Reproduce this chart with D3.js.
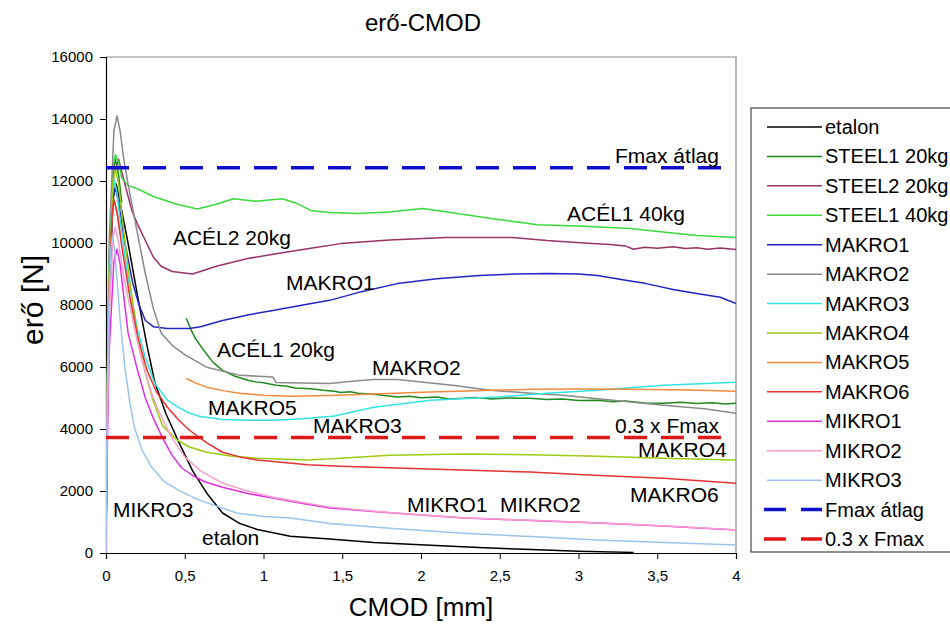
<!DOCTYPE html>
<html>
<head>
<meta charset="utf-8">
<script src="https://cdnjs.cloudflare.com/ajax/libs/d3/7.8.5/d3.min.js"></script>
<style>
  body { margin: 0; background: #fff; overflow: hidden; }
  text { font-family: "Liberation Sans", Arial, sans-serif; fill: #000; }
</style>
</head>
<body>
<svg id="chart" width="950" height="630"></svg>
<script>
// Force–CMOD curves, each point is [CMOD in mm, force in N]; null marks a gap in the record
const etalon = [[0,0],[0.005,3500],[0.02,8500],[0.045,11500],[0.065,11900],[0.09,11300],[0.14,10000],[0.2,8300],[0.26,6700],[0.31,5500],[0.38,4500],[0.46,3600],[0.55,2650],[0.64,1930],[0.74,1290],[0.85,950],[0.96,760],[1.17,540],[1.42,450],[1.7,340],[2.06,250],[2.4,170],[2.7,110],[3.0,60],[3.35,20]];
const steel1_20 = [[0,0],[0.005,4000],[0.02,9000],[0.045,12300],[0.06,12700],[0.08,12200],[0.1,11300],null,[0.51,7570],[0.54,7200],[0.57,6900],[0.62,6540],[0.68,6150],[0.74,5890],[0.82,5700],[0.9,5570],[0.95,5520],[1.0,5490],[1.08,5410],[1.15,5380],[1.2,5320],[1.3,5300],[1.38,5250],[1.45,5220],[1.49,5180],[1.55,5200],[1.6,5150],[1.7,5120],[1.78,5070],[1.85,5030],[1.93,5060],[2.0,5010],[2.1,5030],[2.18,4970],[2.27,4990],[2.35,5020],[2.45,4970],[2.55,5000],[2.69,4990],[2.8,4950],[2.9,4970],[3.0,4920],[3.12,4930],[3.22,4880],[3.3,4900],[3.42,4840],[3.54,4830],[3.65,4860],[3.75,4820],[3.85,4850],[3.93,4810],[4,4830]];
const steel2_20 = [[0,0],[0.005,4000],[0.02,9000],[0.05,12200],[0.08,12700],[0.1,12300],[0.13,11700],[0.165,11040],[0.2,10600],[0.25,10080],[0.3,9550],[0.35,9250],[0.42,9080],[0.55,9000],[0.7,9250],[0.9,9500],[1.09,9660],[1.3,9830],[1.49,9980],[1.8,10100],[2.16,10180],[2.58,10180],[2.8,10080],[3.01,10010],[3.2,9950],[3.3,9900],[3.35,9800],[3.42,9860],[3.5,9830],[3.6,9880],[3.68,9820],[3.75,9850],[3.82,9800],[3.9,9840],[4,9790]];
const steel1_40 = [[0,0],[0.005,4000],[0.02,9500],[0.045,12500],[0.06,12850],[0.08,12600],[0.1,12100],[0.14,11850],[0.2,11750],[0.3,11500],[0.45,11250],[0.58,11100],[0.7,11250],[0.81,11430],[0.95,11350],[1.12,11430],[1.2,11300],[1.3,11050],[1.42,10980],[1.6,10950],[1.8,11000],[2.01,11110],[2.1,11050],[2.23,10950],[2.5,10750],[2.74,10590],[3.0,10550],[3.33,10470],[3.55,10350],[3.75,10240],[4,10180]];
const makro1 = [[0,0],[0.005,4000],[0.02,8500],[0.045,11400],[0.06,11800],[0.08,11300],[0.12,10000],[0.17,8700],[0.21,8000],[0.25,7500],[0.3,7300],[0.39,7240],[0.53,7240],[0.6,7300],[0.74,7500],[0.9,7680],[1.06,7820],[1.25,8000],[1.42,8150],[1.6,8400],[1.85,8690],[2.1,8850],[2.37,8950],[2.6,9000],[2.8,9020],[3.0,9000],[3.12,8950],[3.3,8800],[3.43,8690],[3.6,8500],[3.75,8370],[3.9,8250],[4,8050]];
const makro2 = [[0,0],[0.005,4500],[0.02,10000],[0.05,13600],[0.07,14100],[0.09,13600],[0.11,12800],[0.14,11900],[0.2,10300],[0.25,9000],[0.3,7900],[0.35,7100],[0.42,6700],[0.5,6400],[0.64,5990],[0.85,5730],[1.06,5680],[1.08,5500],[1.42,5470],[1.6,5560],[1.7,5600],[1.85,5600],[2.0,5520],[2.2,5410],[2.44,5250],[2.7,5150],[2.9,5090],[3.22,4930],[3.54,4770],[3.8,4650],[4,4510]];
const makro3 = [[0,0],[0.005,4000],[0.02,9000],[0.04,11600],[0.055,12000],[0.07,11600],[0.1,10300],[0.14,8900],[0.2,7200],[0.25,6300],[0.31,5470],[0.39,4930],[0.46,4700],[0.53,4510],[0.6,4400],[0.74,4310],[0.9,4280],[1.06,4280],[1.25,4330],[1.45,4420],[1.7,4700],[2.06,4930],[2.48,5030],[2.8,5150],[3.12,5250],[3.54,5410],[4,5510]];
const makro4 = [[0,0],[0.005,4000],[0.02,9000],[0.045,12000],[0.06,12400],[0.08,11900],[0.11,10500],[0.15,8800],[0.2,7000],[0.25,5800],[0.3,4900],[0.36,4100],[0.45,3650],[0.53,3420],[0.64,3250],[0.8,3120],[0.96,3060],[1.28,3000],[1.49,3060],[1.8,3150],[2.27,3190],[2.7,3170],[3.12,3120],[3.6,3050],[4,3000]];
const makro5 = [[0,0],[0.005,3800],[0.02,8500],[0.04,11000],[0.05,11400],[0.07,11000],[0.09,10300],null,[0.51,5630],[0.57,5480],[0.64,5350],[0.75,5230],[0.85,5150],[1.0,5090],[1.17,5060],[1.42,5080],[1.7,5130],[2.06,5190],[2.4,5240],[2.69,5280],[3.0,5290],[3.33,5280],[3.7,5260],[4,5220]];
const makro6 = [[0,0],[0.005,3500],[0.02,8500],[0.04,11000],[0.05,11400],[0.07,11000],[0.1,9900],[0.15,8300],[0.2,7000],[0.26,5900],[0.32,5200],[0.39,4700],[0.46,4300],[0.53,3960],[0.64,3550],[0.74,3250],[0.85,3100],[0.96,3000],[1.28,2850],[1.49,2800],[2.0,2720],[2.69,2610],[3.1,2510],[3.54,2410],[4,2250]];
const mikro1 = [[0,0],[0.005,2500],[0.02,6500],[0.05,9400],[0.07,9800],[0.09,9300],[0.11,8400],[0.14,7100],[0.2,5900],[0.25,5000],[0.3,4350],[0.36,3700],[0.42,3150],[0.48,2750],[0.55,2500],[0.63,2290],[0.74,2120],[0.9,1920],[1.06,1770],[1.25,1600],[1.42,1450],[1.8,1300],[2.27,1130],[2.7,1050],[3.12,970],[3.5,880],[4,740]];
const mikro2 = [[0,0],[0.005,3000],[0.02,7500],[0.045,10200],[0.06,10500],[0.08,10000],[0.11,9000],[0.15,8000],[0.2,6800],[0.25,5800],[0.3,5000],[0.36,4300],[0.42,3700],[0.5,3100],[0.6,2650],[0.74,2250],[0.9,2000],[1.06,1800],[1.25,1630],[1.42,1480],[1.8,1310],[2.27,1140],[2.7,1055],[3.12,975],[3.5,885],[4,750]];
const mikro3 = [[0,0],[0.003,3000],[0.015,7500],[0.03,9800],[0.04,10200],[0.055,9800],[0.07,8800],[0.09,7500],[0.12,5990],[0.15,4900],[0.18,4060],[0.23,3300],[0.29,2770],[0.37,2300],[0.46,2030],[0.55,1800],[0.65,1600],[0.83,1290],[1.0,1180],[1.17,1130],[1.42,950],[1.8,800],[2.27,640],[2.7,530],[3.12,420],[3.5,350],[4,260]];

const seriesNames = ["etalon", "STEEL1 20kg", "STEEL2 20kg", "STEEL1 40kg", "MAKRO1", "MAKRO2", "MAKRO3", "MAKRO4", "MAKRO5", "MAKRO6", "MIKRO1", "MIKRO2", "MIKRO3"];
const seriesValues = [etalon, steel1_20, steel2_20, steel1_40, makro1, makro2, makro3, makro4, makro5, makro6, mikro1, mikro2, mikro3];
const seriesColors = ["#000000", "#1f8a1f", "#993366", "#3ad83a", "#2424c4", "#8a8a8a", "#33e3e3", "#9ccc10", "#f08a3c", "#e53232", "#e22ee2", "#f7a0cc", "#9cc4ec"];

// reference levels
const fmaxAvg = 12430;
const residualRatio = 0.3;
const refNames = ["Fmax átlag", "0.3 x Fmax"];
const refValues = [fmaxAvg, residualRatio * fmaxAvg];
const refColors = ["#1010cc", "#e01818"];
const refExtent = [0, 3.93];

const xTicks = [0, 0.5, 1, 1.5, 2, 2.5, 3, 3.5, 4];
const yTicks = [0, 2000, 4000, 6000, 8000, 10000, 12000, 14000, 16000];

// in-plot labels: [text, CMOD, force]
const annotations = [
  ["Fmax átlag", 3.232, 12590],
  ["ACÉL1 40kg", 2.927, 10720],
  ["ACÉL2 20kg", 0.425, 9920],
  ["MAKRO1", 1.143, 8470],
  ["ACÉL1 20kg", 0.705, 6310],
  ["MAKRO2", 1.689, 5730],
  ["MAKRO5", 0.648, 4440],
  ["MAKRO3", 1.314, 3860],
  ["0.3 x Fmax", 3.232, 3860],
  ["MAKRO4", 3.378, 3090],
  ["MAKRO6", 3.327, 1640],
  ["MIKRO1", 1.911, 1320],
  ["MIKRO2", 2.502, 1320],
  ["MIKRO3", 0.044, 1160],
  ["etalon", 0.61, 260]
];

const svg = d3.select("#chart");
const plot = { left: 106, right: 736, top: 57, bottom: 553 };

const x = d3.scaleLinear().domain([0, 4]).range([plot.left, plot.right]);
const y = d3.scaleLinear().domain([0, 16000]).range([plot.bottom, plot.top]);

svg.append("defs").append("clipPath").attr("id", "plotClip")
  .append("rect")
  .attr("x", plot.left).attr("y", plot.top)
  .attr("width", plot.right - plot.left).attr("height", plot.bottom - plot.top);

// title
svg.append("text")
  .attr("x", 423).attr("y", 31)
  .attr("text-anchor", "middle")
  .style("font-size", "24px")
  .text("erő-CMOD");

// plot frame (top and right sides)
svg.append("path")
  .attr("d", `M${plot.left},${plot.top}H${plot.right}V${plot.bottom}`)
  .attr("fill", "none").attr("stroke", "#888").attr("stroke-width", 1.2);

// axes
const fmtComma = v => String(v).replace(".", ",");
const xAxis = svg.append("g")
  .attr("transform", `translate(0,${plot.bottom})`)
  .call(d3.axisBottom(x).tickValues(xTicks).tickFormat(fmtComma).tickSize(6).tickPadding(11));
const yAxis = svg.append("g")
  .attr("transform", `translate(${plot.left},0)`)
  .call(d3.axisLeft(y).tickValues(yTicks).tickFormat(d3.format("d")).tickSize(6).tickPadding(7));
[xAxis, yAxis].forEach(g => {
  g.select(".domain").attr("stroke", "#000").attr("stroke-width", 1.2);
  g.selectAll(".tick line").attr("stroke", "#000");
  g.selectAll(".tick text").style("font-size", "15px").style("font-family", "\"Liberation Sans\", Arial, sans-serif").attr("fill", "#000");
});

// axis titles
svg.append("text")
  .attr("x", (plot.left + plot.right) / 2).attr("y", 616)
  .attr("text-anchor", "middle")
  .style("font-size", "26px")
  .text("CMOD [mm]");
svg.append("text")
  .attr("transform", `translate(43,${(plot.top + plot.bottom) / 2 - 5}) rotate(-90)`)
  .attr("text-anchor", "middle")
  .style("font-size", "30px")
  .text("erő [N]");

// curves
const line = d3.line()
  .defined(d => d !== null)
  .x(d => x(d[0]))
  .y(d => y(d[1]));

const curves = svg.append("g").attr("clip-path", "url(#plotClip)");
seriesValues.forEach((vals, i) => {
  curves.append("path")
    .datum(vals)
    .attr("d", line)
    .attr("fill", "none")
    .attr("stroke", seriesColors[i])
    .attr("stroke-width", 1.5)
    .attr("stroke-linejoin", "round");
});

// reference levels as dashed lines
refValues.forEach((v, i) => {
  curves.append("path")
    .datum(refExtent.map(c => [c, v]))
    .attr("d", line)
    .attr("fill", "none")
    .attr("stroke", refColors[i])
    .attr("stroke-width", 3.5)
    .attr("stroke-dasharray", "23,14");
});

// in-plot labels
svg.append("g").selectAll("text")
  .data(annotations)
  .join("text")
  .attr("x", d => x(d[1]))
  .attr("y", d => y(d[2]))
  .style("font-size", "21px")
  .text(d => d[0]);

// legend
const legend = svg.append("g");
legend.append("rect")
  .attr("x", 751).attr("y", 108)
  .attr("width", 260).attr("height", 444)
  .attr("fill", "#fff").attr("stroke", "#222").attr("stroke-width", 1);

const legendItems = seriesNames.map((n, i) => ({ name: n, color: seriesColors[i], dashed: false }))
  .concat(refNames.map((n, i) => ({ name: n, color: refColors[i], dashed: true })));

const rowY = d3.scalePoint().domain(d3.range(legendItems.length)).range([127, 539]);
const rows = legend.selectAll("g.row")
  .data(legendItems)
  .join("g")
  .attr("class", "row")
  .attr("transform", (d, i) => `translate(0,${rowY(i)})`);
rows.append("line")
  .attr("x1", d => d.dashed ? 764 : 767).attr("x2", 822)
  .attr("y1", 0).attr("y2", 0)
  .attr("stroke", d => d.color)
  .attr("stroke-width", d => d.dashed ? 3.5 : 1.5)
  .attr("stroke-dasharray", d => d.dashed ? "22,15" : null);
rows.append("text")
  .attr("x", 825).attr("y", 7)
  .style("font-size", "20px")
  .text(d => d.name);
</script>
</body>
</html>
